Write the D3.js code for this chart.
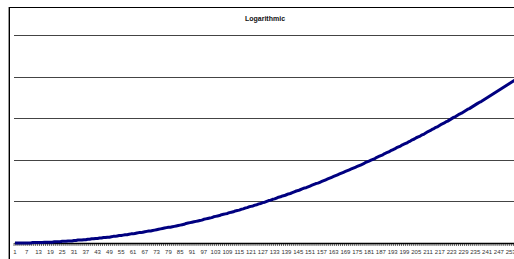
<!DOCTYPE html>
<html><head><meta charset="utf-8">
<script src="https://cdn.jsdelivr.net/npm/d3@7/dist/d3.min.js"></script>
<style>
html,body{margin:0;padding:0;background:#fff;overflow:hidden;}
svg{display:block;font-family:"Liberation Sans",Arial,sans-serif;}
</style></head>
<body>
<svg id="c" width="514" height="259"></svg>
<script>
const title = "Logarithmic";
const categories = d3.range(1, 257);
const values = [
0.00,0.00,0.00,0.00,0.00,0.00,0.00,0.00,0.00,0.01,
0.01,0.01,0.01,0.01,0.01,0.02,0.02,0.02,0.02,0.02,
0.03,0.03,0.03,0.03,0.04,0.04,0.04,0.05,0.05,0.05,
0.06,0.06,0.07,0.07,0.07,0.08,0.08,0.09,0.09,0.10,
0.10,0.11,0.11,0.12,0.12,0.13,0.13,0.14,0.14,0.15,
0.16,0.16,0.17,0.18,0.18,0.19,0.20,0.20,0.21,0.22,
0.22,0.23,0.24,0.25,0.25,0.26,0.27,0.28,0.29,0.29,
0.30,0.31,0.32,0.33,0.34,0.35,0.36,0.37,0.38,0.38,
0.39,0.40,0.41,0.42,0.43,0.44,0.45,0.47,0.48,0.49,
0.50,0.51,0.52,0.53,0.54,0.55,0.57,0.58,0.59,0.60,
0.61,0.63,0.64,0.65,0.66,0.68,0.69,0.70,0.71,0.73,
0.74,0.75,0.77,0.78,0.79,0.81,0.82,0.84,0.85,0.87,
0.88,0.89,0.91,0.92,0.94,0.95,0.97,0.98,1.00,1.02,
1.03,1.05,1.06,1.08,1.10,1.11,1.13,1.14,1.16,1.18,
1.19,1.21,1.23,1.25,1.26,1.28,1.30,1.32,1.33,1.35,
1.37,1.39,1.41,1.43,1.44,1.46,1.48,1.50,1.52,1.54,
1.56,1.58,1.60,1.62,1.64,1.66,1.68,1.70,1.72,1.74,
1.76,1.78,1.80,1.82,1.84,1.86,1.88,1.90,1.93,1.95,
1.97,1.99,2.01,2.03,2.06,2.08,2.10,2.12,2.15,2.17,
2.19,2.22,2.24,2.26,2.29,2.31,2.33,2.36,2.38,2.40,
2.43,2.45,2.48,2.50,2.53,2.55,2.57,2.60,2.62,2.65,
2.68,2.70,2.73,2.75,2.78,2.80,2.83,2.86,2.88,2.91,
2.93,2.96,2.99,3.02,3.04,3.07,3.10,3.12,3.15,3.18,
3.21,3.23,3.26,3.29,3.32,3.35,3.38,3.40,3.43,3.46,
3.49,3.52,3.55,3.58,3.61,3.64,3.67,3.70,3.73,3.76,
3.79,3.82,3.85,3.88,3.91,3.94
];
const yTicks = [1, 2, 3, 4, 5];
const xLabelStep = 6;

const svg = d3.select("#c");
const plotLeft = 14, plotTop = 35, plotBottom = 243;
const step = 1.967;
const plotRight = plotLeft + categories.length * step;

// chart frame
svg.append("line").attr("x1", 8.5).attr("x2", 8.5).attr("y1", 7).attr("y2", 259)
  .attr("stroke", "#999").attr("stroke-width", 1);
svg.append("line").attr("x1", 9.5).attr("x2", 9.5).attr("y1", 7).attr("y2", 259)
  .attr("stroke", "#000").attr("stroke-width", 1);
svg.append("line").attr("x1", 9).attr("x2", 520).attr("y1", 7.5).attr("y2", 7.5)
  .attr("stroke", "#000").attr("stroke-width", 1);

svg.append("text").attr("x", 265).attr("y", 21).attr("text-anchor", "middle")
  .attr("font-size", 7).attr("font-weight", "bold").attr("fill", "#111").text(title);

const x = d3.scaleBand().domain(categories).range([plotLeft, plotRight]).paddingInner(0).paddingOuter(0);
const y = d3.scaleLinear().domain([0, 5]).range([plotBottom, plotTop]);

// gridlines
svg.append("g").selectAll("line").data(yTicks).join("line")
  .attr("x1", plotLeft).attr("x2", plotRight)
  .attr("y1", d => Math.round(y(d)) + 0.5).attr("y2", d => Math.round(y(d)) + 0.5)
  .attr("stroke", "#444").attr("stroke-width", 1.2);

// x axis
const xAxis = d3.axisBottom(x)
  .tickSize(3)
  .tickSizeOuter(0)
  .tickFormat(d => ((d - 1) % xLabelStep === 0 ? d : ""));
const gx = svg.append("g").attr("transform", `translate(0,${plotBottom})`).call(xAxis);
gx.select(".domain").attr("stroke", "#000").attr("stroke-width", 1.5);
gx.selectAll(".tick line").attr("stroke", "#000").attr("stroke-width", 0.6)
  .attr("transform", `translate(${-step/2},0)`);
gx.selectAll(".tick text").attr("font-size", 6).attr("fill", "#333")
  .attr("font-family", "Liberation Sans, Arial, sans-serif").attr("dy", "0.9em");

// line
const line = d3.line()
  .x((d, i) => x(categories[i]) + x.bandwidth() / 2)
  .y(d => y(d));
svg.append("path").datum(values)
  .attr("fill", "none").attr("stroke", "#000080").attr("stroke-width", 3)
  .attr("stroke-linejoin", "round").attr("d", line);
</script>
</body></html>
